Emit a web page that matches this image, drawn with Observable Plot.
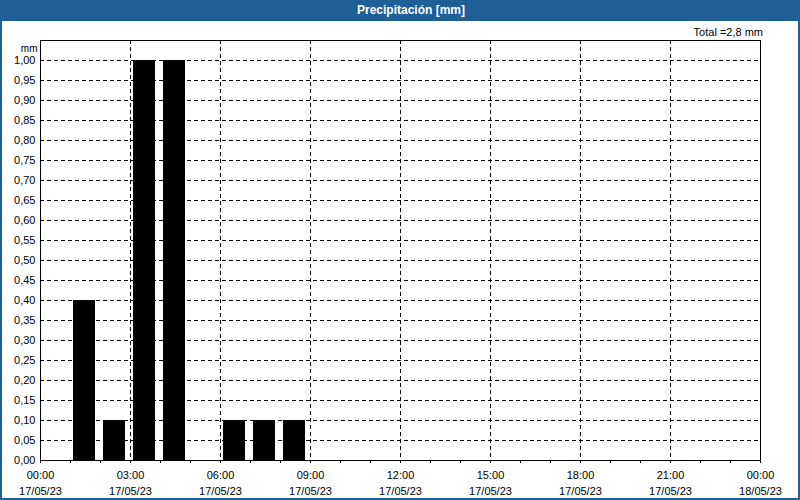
<!DOCTYPE html>
<html><head><meta charset="utf-8">
<script src="https://cdn.jsdelivr.net/npm/d3@7"></script>
<script src="https://cdn.jsdelivr.net/npm/@observablehq/plot@0.6"></script>
<style>
body{margin:0;background:#fff;}
#wrap{position:relative;width:800px;height:500px;overflow:hidden;background:#fff;font-family:"Liberation Sans",Arial,sans-serif;}
#title{position:absolute;left:0;top:0;width:800px;height:21px;background:#1e5f97;color:#fff;font-weight:bold;font-size:12px;line-height:21px;text-align:center;}
#title span{position:relative;left:11px;}
#total{position:absolute;right:37px;top:26px;font-size:11px;color:#000;white-space:nowrap;}
#chart{position:absolute;left:0;top:21px;}
#border{position:absolute;left:0;top:0;width:800px;height:500px;box-sizing:border-box;border:2px solid #1e5f97;border-top:none;pointer-events:none;}
</style></head>
<body>
<div id="wrap">
  <div id="title"><span>Precipitación [mm]</span></div>
  <div id="total"></div>
  <div id="chart"></div>
  <div id="border"></div>
</div>
<script>
// hourly precipitation on 17/05/23 (hour of start, mm)
const hours  = [0, 1, 2, 3, 4, 5, 6, 7, 8, 9, 10, 11, 12, 13, 14, 15, 16, 17, 18, 19, 20, 21, 22, 23];
const precip = [0, 0.4, 0.1, 1.0, 1.0, 0, 0.1, 0.1, 0.1, 0, 0, 0, 0, 0, 0, 0, 0, 0, 0, 0, 0, 0, 0, 0];
const yTicks = [0, 0.05, 0.10, 0.15, 0.20, 0.25, 0.30, 0.35, 0.40, 0.45, 0.50, 0.55, 0.60, 0.65, 0.70, 0.75, 0.80, 0.85, 0.90, 0.95, 1.00];
const gridHours = [3, 6, 9, 12, 15, 18, 21];
const tickHours = [0, 1, 2, 3, 4, 5, 6, 7, 8, 9, 10, 11, 12, 13, 14, 15, 16, 17, 18, 19, 20, 21, 22, 23, 24];
const yUnit = "mm";
const totalLabel = "Total =";

const day = (h) => new Date(Date.UTC(2023, 4, 17, h));
const data = hours.map((h, i) => ({start: day(h), end: day(h + 1), v: precip[i]}));
const total = d3.sum(precip);
document.getElementById("total").textContent = totalLabel + total.toFixed(1).replace(".", ",") + " mm";

const fmtT = d3.utcFormat("%H:%M"), fmtD = d3.utcFormat("%d/%m/%y");
const dash = {stroke: "#000", strokeOpacity: 1, strokeDasharray: "4,3"};

const chart = Plot.plot({
  width: 800, height: 479,
  marginTop: 19, marginBottom: 40, marginLeft: 40, marginRight: 40,
  x: {type: "utc", domain: [day(0), day(24)]},
  y: {domain: [0, 1.05]},
  style: {fontFamily: "'Liberation Sans', Arial, sans-serif", fontSize: "11px", color: "#000", background: "transparent"},
  marks: [
    Plot.gridY(yTicks.slice(1), dash),
    Plot.gridX(gridHours.map(day), dash),
    Plot.rectY(data.filter(d => d.v > 0), {x1: "start", x2: "end", y: "v", fill: "#000", insetLeft: 3, insetRight: 5}),
    Plot.frame({stroke: "#000"}),
    Plot.axisY(yTicks, {tickSize: 0, tickPadding: 5, label: null, tickFormat: d => d.toFixed(2).replace(".", ",")}),
    Plot.axisX(tickHours.map(day), {tickSize: 3, tickPadding: 5, label: null, lineHeight: 1.4,
      tickFormat: d => d.getUTCHours() % 3 === 0 ? fmtT(d) + "\n" + fmtD(d) : ""}),
    Plot.text([yUnit], {frameAnchor: "top-left", dx: -3, dy: 4, textAnchor: "end", fontSize: 10})
  ]
});
document.getElementById("chart").appendChild(chart);
</script>
</body></html>
